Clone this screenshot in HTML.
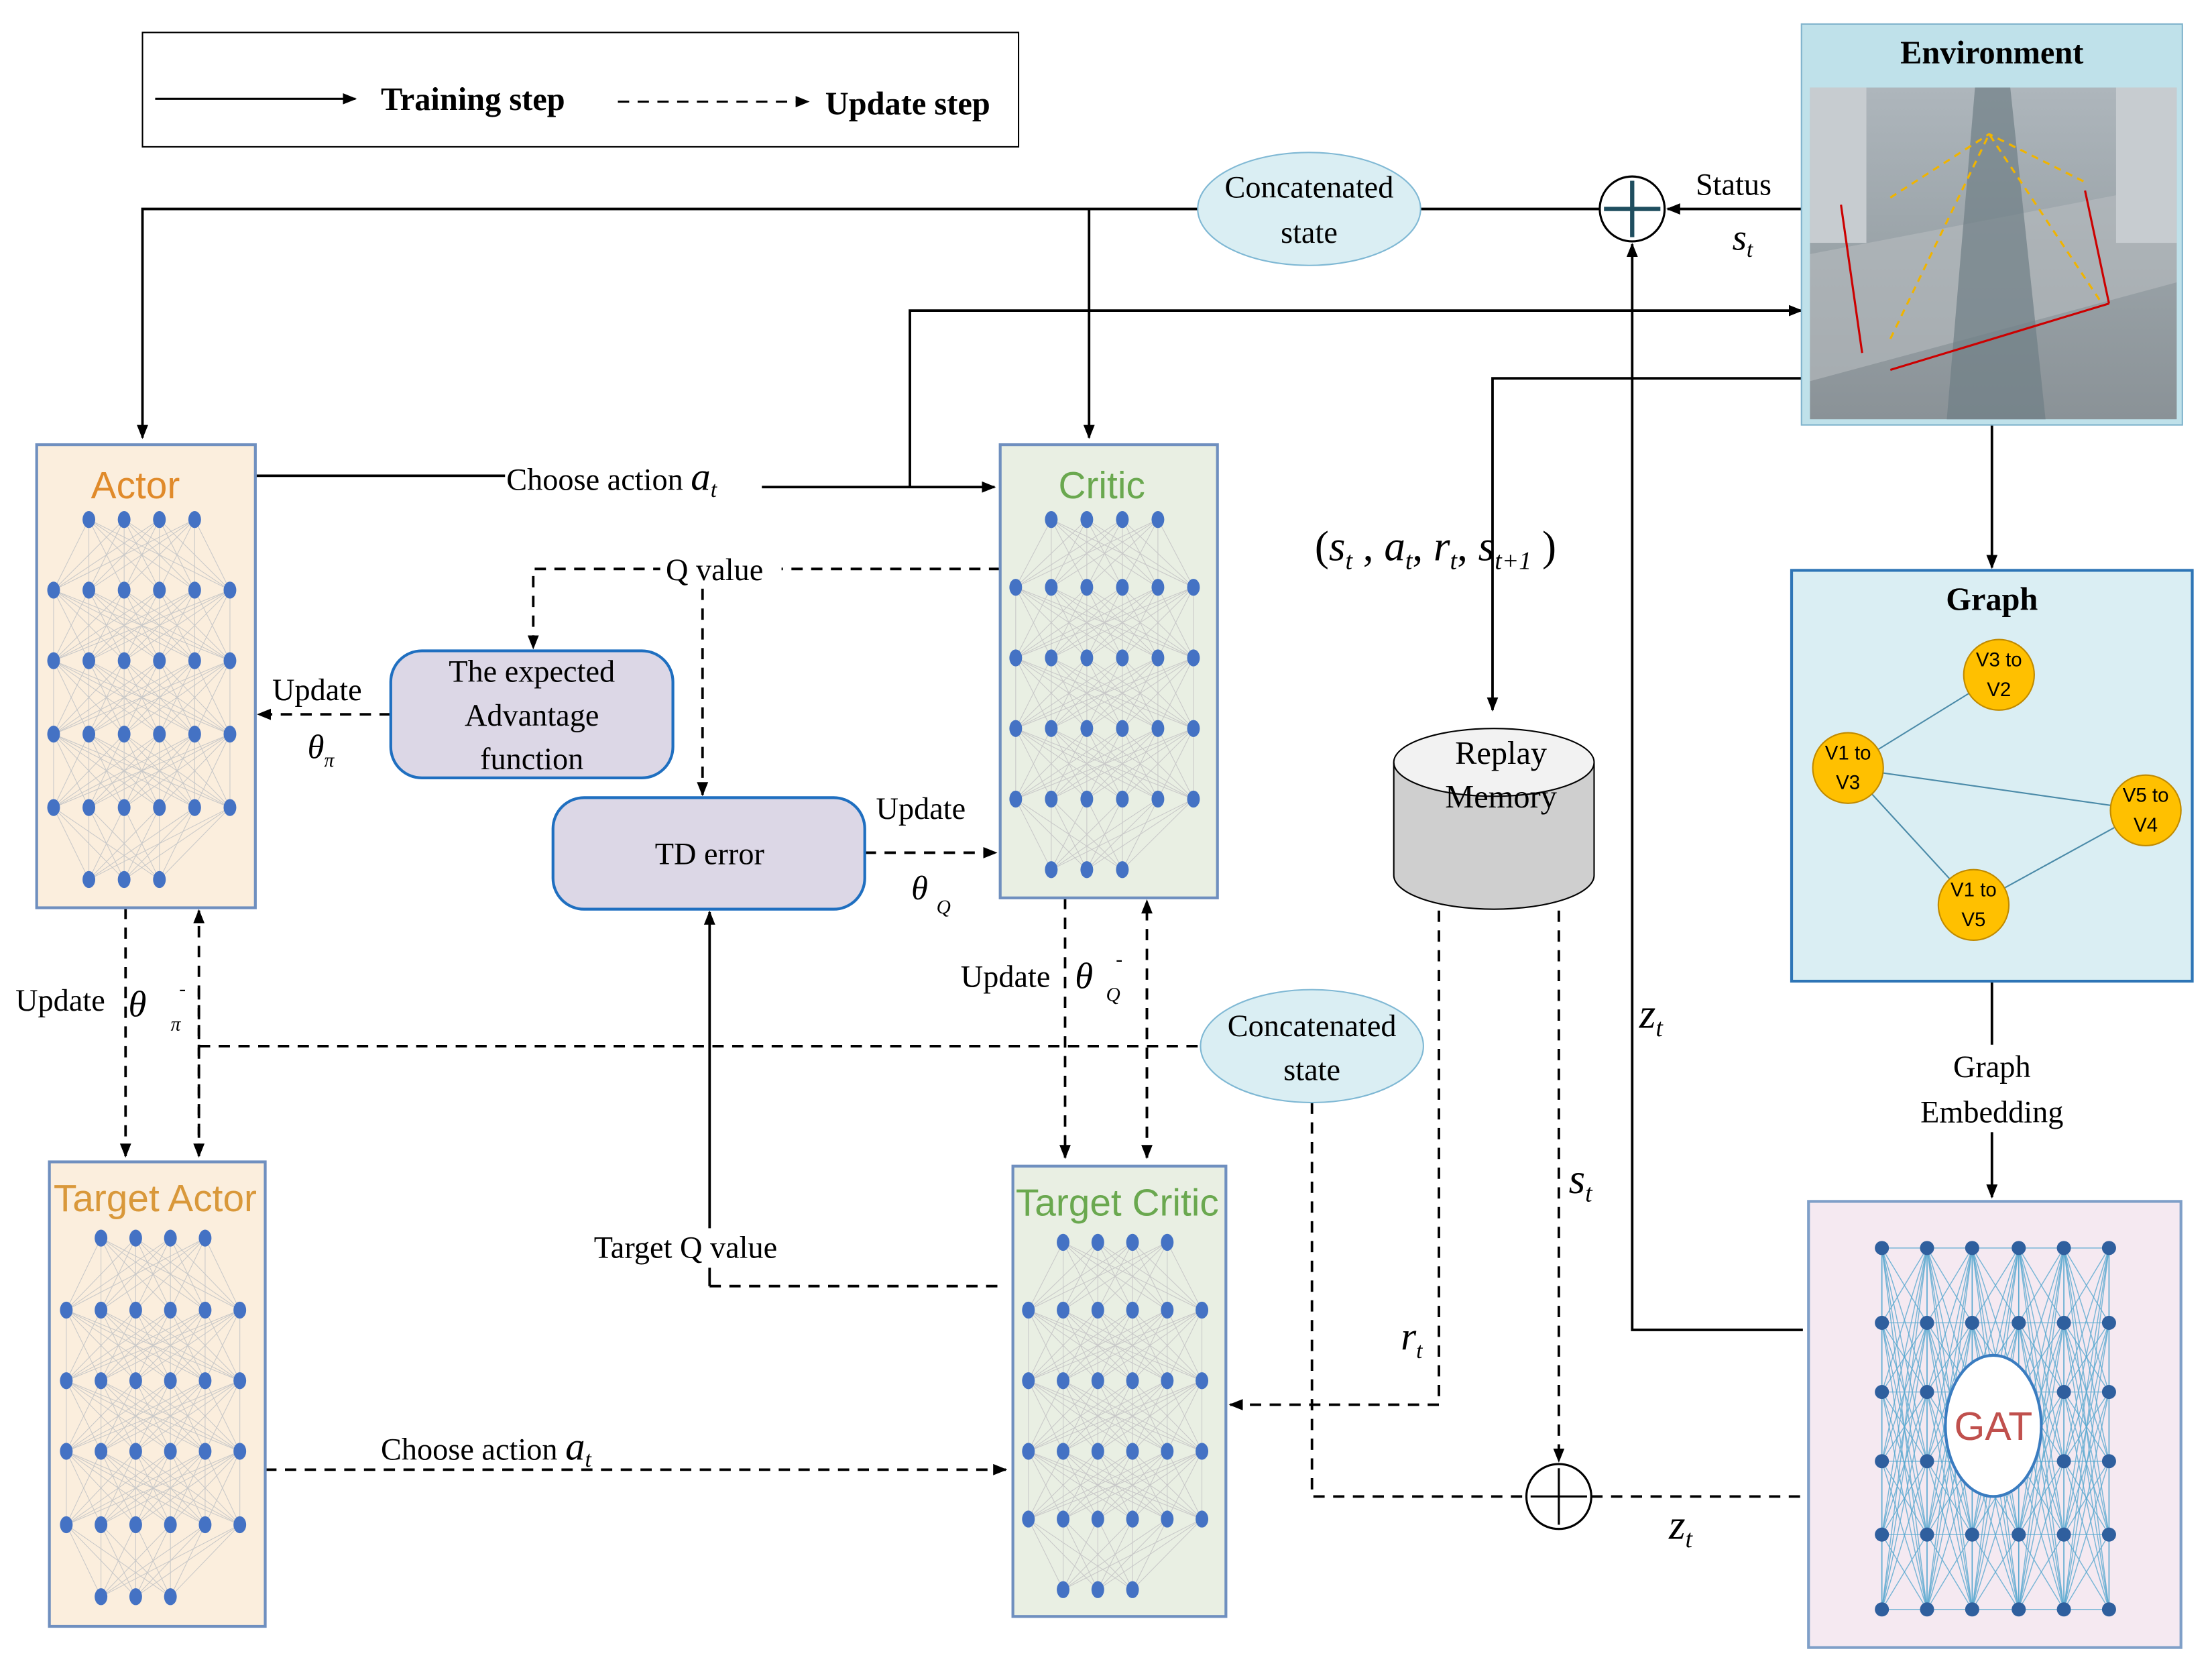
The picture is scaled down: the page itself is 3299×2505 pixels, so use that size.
<!DOCTYPE html>
<html><head><meta charset="utf-8">
<style>
html,body{margin:0;padding:0;background:#fff;}
svg{display:block;}
text{font-family:"Liberation Serif",serif;fill:#000;}
</style></head>
<body>
<svg id="s" width="3299" height="2505" viewBox="0 0 1568 1190" preserveAspectRatio="none" xmlns="http://www.w3.org/2000/svg">
<defs>
<marker id="a" markerWidth="10" markerHeight="10" refX="9" refY="5" orient="auto" markerUnits="userSpaceOnUse"><path d="M0,1 L10,5 L0,9 Z" fill="#000"/></marker>
<linearGradient id="city" x1="0" y1="0" x2="0" y2="1"><stop offset="0" stop-color="#aeb6bc"/><stop offset="0.5" stop-color="#9aa3a8"/><stop offset="1" stop-color="#8a9297"/></linearGradient>
</defs>
<rect width="1568" height="1190" fill="#fff"/>

<!-- Solid connectors -->
<g stroke="#000" stroke-width="1.8" fill="none">
<polyline points="1134,148 1007,148"/>
<polyline points="849,148 101,148 101,310" marker-end="url(#a)"/>
<line x1="772" y1="148" x2="772" y2="310" marker-end="url(#a)"/>
<line x1="1277" y1="148" x2="1182" y2="148" marker-end="url(#a)"/>
<polyline points="181,337 360,337"/>
<polyline points="540,345 705,345" marker-end="url(#a)"/>
<polyline points="645,345 645,220 1277,220" marker-end="url(#a)"/>
<polyline points="1283,268 1058,268 1058,503" marker-end="url(#a)"/>
<polyline points="1278,942 1157,942 1157,173" marker-end="url(#a)"/>
<line x1="1412" y1="301" x2="1412" y2="402" marker-end="url(#a)"/>
<line x1="1412" y1="695" x2="1412" y2="740"/>
<line x1="1412" y1="802" x2="1412" y2="848" marker-end="url(#a)"/>
<line x1="503" y1="911" x2="503" y2="646" marker-end="url(#a)"/>
</g>

<!-- Dashed connectors -->
<g stroke="#000" stroke-width="1.8" fill="none" stroke-dasharray="8,6">
<polyline points="709,403 378,403 378,459" marker-end="url(#a)"/>
<line x1="498" y1="403" x2="498" y2="563" marker-end="url(#a)"/>
<line x1="277" y1="506" x2="183" y2="506" marker-end="url(#a)"/>
<line x1="613" y1="604" x2="706" y2="604" marker-end="url(#a)"/>
<line x1="89" y1="643" x2="89" y2="819" marker-end="url(#a)"/>
<line x1="141" y1="818" x2="141" y2="645" marker-end="url(#a)"/>
<line x1="141" y1="700" x2="141" y2="819" marker-end="url(#a)"/>
<line x1="141" y1="741" x2="851" y2="741"/>
<line x1="755" y1="636" x2="755" y2="820" marker-end="url(#a)"/>
<line x1="813" y1="820" x2="813" y2="638" marker-end="url(#a)"/>
<line x1="813" y1="700" x2="813" y2="820" marker-end="url(#a)"/>
<line x1="503" y1="911" x2="713" y2="911"/>
<polyline points="1020,645 1020,995 872,995" marker-end="url(#a)"/>
<line x1="1105" y1="645" x2="1105" y2="1035" marker-end="url(#a)"/>
<polyline points="930,781 930,1060 1082,1060"/>
<line x1="1128" y1="1060" x2="1278" y2="1060"/>
<line x1="188" y1="1041" x2="713" y2="1041" marker-end="url(#a)"/>
</g>

<!-- Legend -->
<rect x="101" y="23" width="621" height="81" fill="#fff" stroke="#000" stroke-width="1"/>
<line x1="110" y1="70" x2="252" y2="70" stroke="#000" stroke-width="1.5" marker-end="url(#a)"/>
<text x="270" y="78" font-size="23" font-weight="bold">Training step</text>
<line x1="438" y1="72" x2="573" y2="72" stroke="#000" stroke-width="1.5" stroke-dasharray="8,6" marker-end="url(#a)"/>
<text x="585" y="81" font-size="23" font-weight="bold">Update step</text>

<!-- Environment -->
<rect x="1277" y="17" width="270" height="284" fill="#bfe1ea" stroke="#7fb3cc"/>
<text x="1412" y="45" font-size="23" font-weight="bold" text-anchor="middle">Environment</text>
<rect x="1283" y="62" width="260" height="235" fill="url(#city)"/>
<polygon points="1283,180 1543,130 1543,200 1283,270" fill="#b8bcbf" opacity="0.6"/>
<polygon points="1380,297 1400,62 1425,62 1450,297" fill="#6f7f86" opacity="0.7"/>
<rect x="1283" y="62" width="40" height="110" fill="#c7ccd0"/>
<rect x="1500" y="62" width="43" height="110" fill="#c7ccd0"/>
<line x1="1305" y1="145" x2="1320" y2="250" stroke="#c00" stroke-width="1.5"/>
<line x1="1340" y1="262" x2="1495" y2="215" stroke="#c00" stroke-width="1.5"/>
<line x1="1478" y1="135" x2="1495" y2="215" stroke="#c00" stroke-width="1.5"/>
<polyline points="1340,140 1410,95 1480,130" fill="none" stroke="#f0b400" stroke-width="1.5" stroke-dasharray="5,4"/>
<polyline points="1340,240 1410,95 1490,215" fill="none" stroke="#f0b400" stroke-width="1.5" stroke-dasharray="5,4"/>

<!-- Graph -->
<rect x="1270" y="404" width="284" height="291" fill="#daeef3" stroke="#2e75b6" stroke-width="2"/>
<text x="1412" y="432" font-size="23" font-weight="bold" text-anchor="middle">Graph</text>
<g stroke="#4a8aa8" stroke-width="1">
<line x1="1310" y1="544" x2="1417" y2="478"/>
<line x1="1310" y1="544" x2="1521" y2="574"/>
<line x1="1310" y1="544" x2="1399" y2="641"/>
<line x1="1521" y1="574" x2="1399" y2="641"/>
</g>
<g fill="#ffc000" stroke="#c08a00" stroke-width="1">
<circle cx="1417" cy="478" r="25"/><circle cx="1310" cy="544" r="25"/><circle cx="1521" cy="574" r="25"/><circle cx="1399" cy="641" r="25"/>
</g>
<g font-size="14" text-anchor="middle">
<text x="1417" y="472" style="font-family:'Liberation Sans',sans-serif">V3 to</text><text x="1417" y="493" style="font-family:'Liberation Sans',sans-serif">V2</text>
<text x="1310" y="538" style="font-family:'Liberation Sans',sans-serif">V1 to</text><text x="1310" y="559" style="font-family:'Liberation Sans',sans-serif">V3</text>
<text x="1521" y="568" style="font-family:'Liberation Sans',sans-serif">V5 to</text><text x="1521" y="589" style="font-family:'Liberation Sans',sans-serif">V4</text>
<text x="1399" y="635" style="font-family:'Liberation Sans',sans-serif">V1 to</text><text x="1399" y="656" style="font-family:'Liberation Sans',sans-serif">V5</text>
</g>

<!-- GAT -->
<rect x="1282" y="851" width="264" height="316" fill="#f5e9f1" stroke="#7f9fc8" stroke-width="2"/>
<g id="gat"></g>
<ellipse cx="1413" cy="1010" rx="34" ry="50" fill="#fff" stroke="#3a7cc0" stroke-width="2"/>
<text x="1413" y="1020" font-size="28" text-anchor="middle" style="font-family:'Liberation Sans',sans-serif;fill:#c0504d">GAT</text>

<!-- Nets -->
<rect x="26" y="315" width="155" height="328" fill="#fbeedd" stroke="#6f8fbf" stroke-width="2"/>
<text x="96" y="353" font-size="27" text-anchor="middle" style="font-family:'Liberation Sans',sans-serif;fill:#e08a2a">Actor</text>
<rect x="709" y="315" width="154" height="321" fill="#e9efe3" stroke="#6f8fbf" stroke-width="2"/>
<text x="781" y="353" font-size="27" text-anchor="middle" style="font-family:'Liberation Sans',sans-serif;fill:#6aa84f">Critic</text>
<rect x="35" y="823" width="153" height="329" fill="#fbeedd" stroke="#6f8fbf" stroke-width="2"/>
<text x="110" y="858" font-size="27" text-anchor="middle" style="font-family:'Liberation Sans',sans-serif;fill:#d9983a">Target Actor</text>
<rect x="718" y="826" width="151" height="319" fill="#e9efe3" stroke="#6f8fbf" stroke-width="2"/>
<text x="792" y="861" font-size="27" text-anchor="middle" style="font-family:'Liberation Sans',sans-serif;fill:#6aa84f">Target Critic</text>
<g id="nets"></g>

<!-- Ellipses -->
<ellipse cx="928" cy="148" rx="79" ry="40" fill="#daeef3" stroke="#7fb8d4"/>
<text x="928" y="140" font-size="22" text-anchor="middle">Concatenated</text>
<text x="928" y="172" font-size="22" text-anchor="middle">state</text>
<ellipse cx="930" cy="741" rx="79" ry="40" fill="#daeef3" stroke="#7fb8d4"/>
<text x="930" y="734" font-size="22" text-anchor="middle">Concatenated</text>
<text x="930" y="765" font-size="22" text-anchor="middle">state</text>

<!-- Rounded boxes -->
<rect x="277" y="461" width="200" height="90" rx="22" fill="#dcd7e6" stroke="#1f6fc0" stroke-width="2"/>
<text x="377" y="483" font-size="22" text-anchor="middle">The expected</text>
<text x="377" y="514" font-size="22" text-anchor="middle">Advantage</text>
<text x="377" y="545" font-size="22" text-anchor="middle">function</text>
<rect x="392" y="565" width="221" height="79" rx="22" fill="#dcd7e6" stroke="#1f6fc0" stroke-width="2"/>
<text x="503" y="612" font-size="22" text-anchor="middle">TD error</text>

<!-- Replay memory -->
<path d="M988,540 L988,620 A71,24 0 0 0 1130,620 L1130,540" fill="#cfcfcf" stroke="#000"/>
<ellipse cx="1059" cy="540" rx="71" ry="24" fill="#f2f2f2" stroke="#000"/>
<text x="1064" y="541" font-size="23" text-anchor="middle">Replay</text>
<text x="1064" y="572" font-size="23" text-anchor="middle">Memory</text>

<!-- Plus circles -->
<g stroke="#000" stroke-width="1.5" fill="#fff">
<circle cx="1157" cy="148" r="23"/><line x1="1137" y1="148" x2="1177" y2="148" stroke="#1f4e5f" stroke-width="3"/><line x1="1157" y1="128" x2="1157" y2="168" stroke="#1f4e5f" stroke-width="3"/>
<circle cx="1105" cy="1060" r="23"/><line x1="1085" y1="1060" x2="1125" y2="1060"/><line x1="1105" y1="1040" x2="1105" y2="1080"/>
</g>

<!-- Labels -->
<text x="1202" y="138" font-size="22">Status</text>
<text x="1228" y="177" font-size="26" font-style="italic">s<tspan font-size="16" dy="5">t</tspan></text>
<rect x="358" y="322" width="182" height="32" fill="#fff"/>
<text x="359" y="347" font-size="22">Choose action <tspan font-size="28" font-style="italic">a</tspan><tspan font-size="16" font-style="italic" dy="5">t</tspan></text>
<rect x="468" y="390" width="86" height="26" fill="#fff"/>
<text x="472" y="411" font-size="22">Q value</text>
<text x="193" y="496" font-size="22">Update</text>
<text x="218" y="537" font-size="24" font-style="italic">θ<tspan font-size="14" dy="6">π</tspan></text>
<text x="621" y="580" font-size="22">Update</text>
<text x="646" y="637" font-size="24" font-style="italic">θ <tspan font-size="14" dy="10">Q</tspan></text>
<text x="11" y="716" font-size="22">Update</text>
<text x="91" y="720" font-size="26" font-style="italic">θ</text>
<text x="127" y="705" font-size="14">-</text>
<text x="121" y="730" font-size="14" font-style="italic">π</text>
<text x="681" y="699" font-size="22">Update</text>
<text x="762" y="700" font-size="26" font-style="italic">θ</text>
<text x="791" y="684" font-size="14">-</text>
<text x="784" y="709" font-size="14" font-style="italic">Q</text>
<text x="932" y="397" font-size="30" font-style="italic"><tspan font-style="normal">(</tspan>s<tspan font-size="18" dy="6">t</tspan><tspan dy="-6" font-style="normal"> , </tspan>a<tspan font-size="18" dy="6">t</tspan><tspan dy="-6" font-style="normal">, </tspan>r<tspan font-size="18" dy="6">t</tspan><tspan dy="-6" font-style="normal">, </tspan>s<tspan font-size="18" dy="6">t+1</tspan><tspan dy="-6" font-style="normal"> )</tspan></text>
<text x="1162" y="728" font-size="30" font-style="italic">z<tspan font-size="18" dy="6">t</tspan></text>
<text x="1412" y="763" font-size="22" text-anchor="middle">Graph</text>
<text x="1412" y="795" font-size="22" text-anchor="middle">Embedding</text>
<text x="1112" y="845" font-size="30" font-style="italic">s<tspan font-size="18" dy="6">t</tspan></text>
<text x="993" y="956" font-size="28" font-style="italic">r<tspan font-size="16" dy="6">t</tspan></text>
<text x="1183" y="1090" font-size="30" font-style="italic">z<tspan font-size="18" dy="6">t</tspan></text>
<rect x="420" y="870" width="166" height="28" fill="#fff"/>
<text x="421" y="891" font-size="22">Target Q value</text>
<text x="270" y="1034" font-size="22">Choose action <tspan font-size="28" font-style="italic">a</tspan><tspan font-size="16" font-style="italic" dy="5">t</tspan></text>
</svg>
<script>
(function(){
var NS="http://www.w3.org/2000/svg";
function el(p,t,a){var e=document.createElementNS(NS,t);for(var k in a)e.setAttribute(k,a[k]);p.appendChild(e);return e;}
var nets=document.getElementById("nets");
function net(x0,dx,rows){
  var layers=rows.map(function(r){var n=r[1],xs=[];var off=(n===6)?0:1;for(var i=0;i<n;i++)xs.push(x0+(i+off)*dx);return {y:r[0],xs:xs};});
  for(var l=0;l<layers.length-1;l++){var A=layers[l],B=layers[l+1];
    A.xs.forEach(function(a){B.xs.forEach(function(b){el(nets,"line",{x1:a,y1:A.y,x2:b,y2:B.y,stroke:"#c8c8c8","stroke-width":0.5});});});}
  layers.forEach(function(L){L.xs.forEach(function(x){el(nets,"ellipse",{cx:x,cy:L.y,rx:4.5,ry:6,fill:"#4472c4"});});});
}
net(38,25,[[368,4],[418,6],[468,6],[520,6],[572,6],[623,3]]);
net(720,25.2,[[368,4],[416,6],[466,6],[516,6],[566,6],[616,3]]);
net(47,24.6,[[877,4],[928,6],[978,6],[1028,6],[1080,6],[1131,3]]);
net(729,24.6,[[880,4],[928,6],[978,6],[1028,6],[1076,6],[1126,3]]);
var g=document.getElementById("gat");
var cx=[1334,1366,1398,1431,1463,1495],ry=[884,937,986,1035,1087,1140];
for(var i=0;i<5;i++)for(var a=0;a<6;a++)for(var b=0;b<6;b++)el(g,"line",{x1:cx[i],y1:ry[a],x2:cx[i+1],y2:ry[b],stroke:"#5aa9d0","stroke-width":0.7,opacity:0.8});
for(var i=0;i<6;i++)for(var j=0;j<5;j++)el(g,"line",{x1:cx[i],y1:ry[j],x2:cx[i],y2:ry[j+1],stroke:"#5aa9d0","stroke-width":0.8});
cx.forEach(function(x){ry.forEach(function(y){el(g,"circle",{cx:x,cy:y,r:5,fill:"#2f5f9e"});});});
})();
</script>
</body></html>
